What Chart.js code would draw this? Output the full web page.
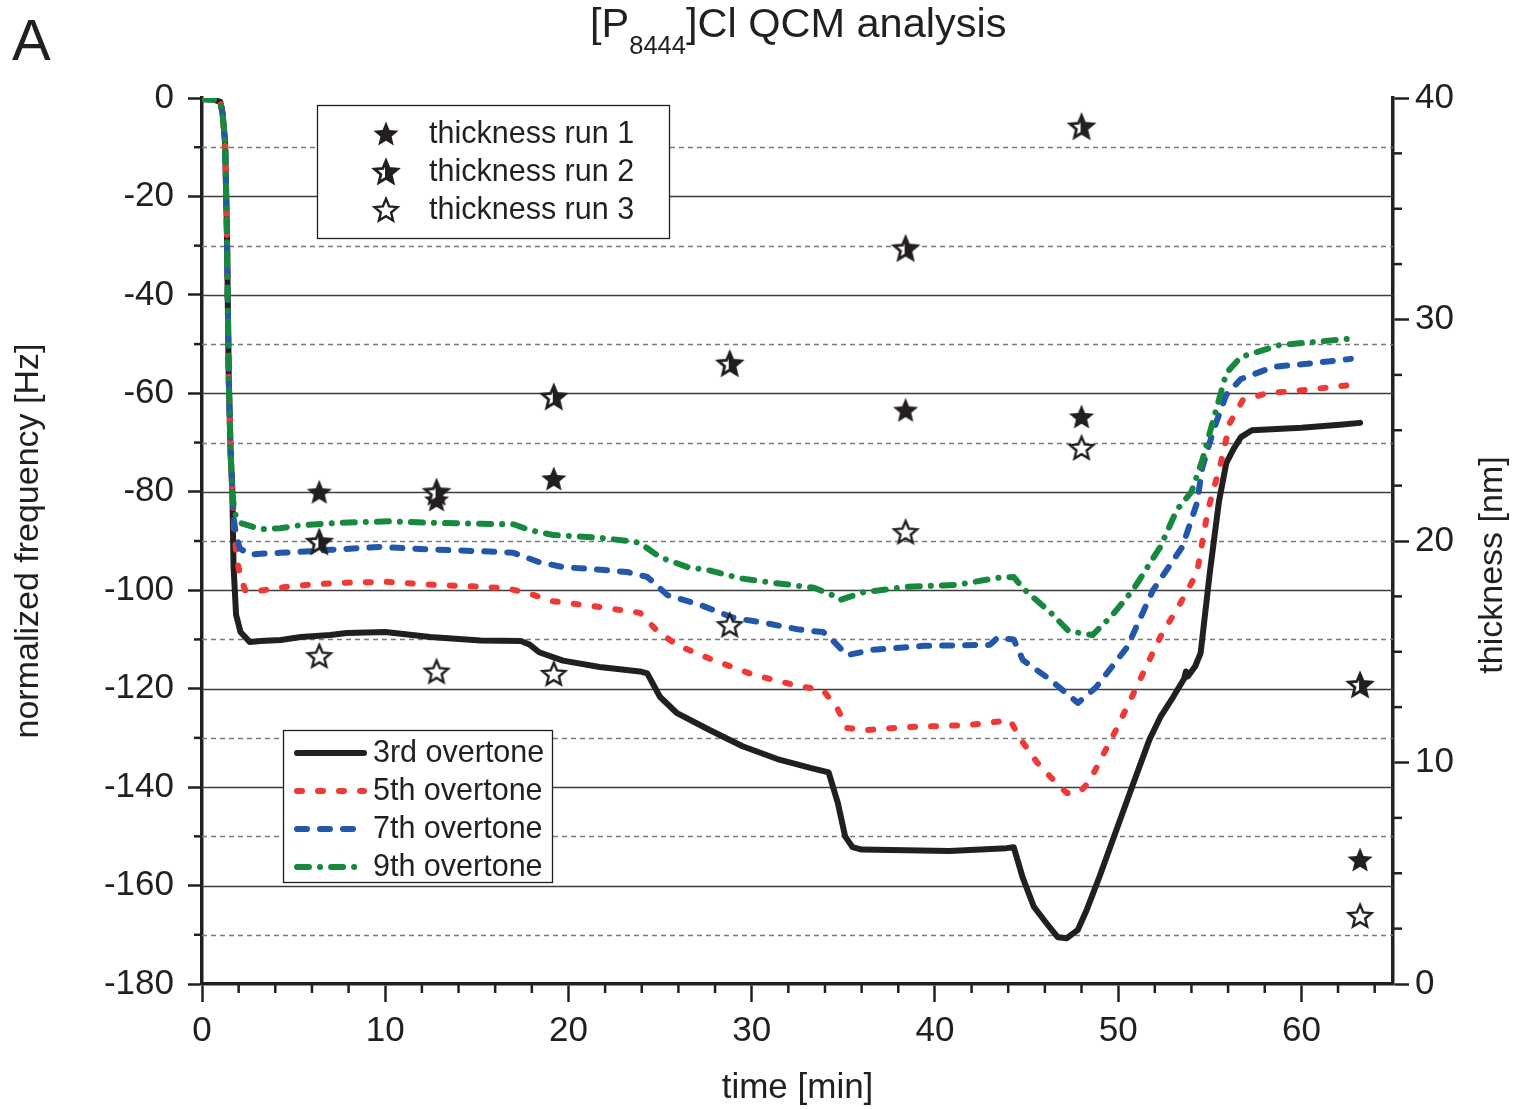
<!DOCTYPE html>
<html><head><meta charset="utf-8">
<script src="https://cdn.jsdelivr.net/npm/chart.js@4.4.1/dist/chart.umd.min.js"></script>
<style>html,body{margin:0;padding:0;background:#fff}canvas{display:block}</style>
</head><body>
<canvas id="c" width="1515" height="1109"></canvas>
<script>
const FONT = '"Liberation Sans", Arial, Helvetica, sans-serif';
const INK = '#231f20';

// ---- data ----
const time3rd = [0,0.6,1.0,1.12,1.26,1.36,1.46,1.56,1.66,1.72,1.86,2.1,2.6,3.2,4.3,5.4,7.0,7.9,10.0,12.45,15.2,17.4,17.9,18.4,19.7,21.7,23.9,24.3,25.0,25.9,27.7,29.5,31.4,33.2,34.2,34.7,35.1,35.5,36.0,37.6,40.8,43.9,44.3,44.8,45.4,46.1,46.7,47.2,47.8,48.3,49.0,49.8,50.8,51.7,52.3,53.0,53.6,53.7,53.8,54.2,54.5,55.0,55.5,55.9,56.3,56.7,57.3,60.0,62.1,63.2];
const freq3rd = [-0.2,-0.3,-0.8,-3,-9,-27,-57,-72,-80,-95,-105,-108.5,-110.5,-110.3,-110.1,-109.5,-109.1,-108.7,-108.5,-109.5,-110.2,-110.3,-111.1,-112.6,-114.3,-115.6,-116.5,-116.9,-121.7,-124.9,-128.4,-131.7,-134.3,-136.1,-137.0,-143.2,-150.0,-152.2,-152.7,-152.8,-153.0,-152.4,-152.2,-158.5,-164.3,-167.7,-170.5,-170.7,-169.0,-164.8,-158.0,-149.8,-139.5,-130.4,-125.8,-121.7,-118.0,-116.5,-117.5,-115.5,-112.8,-96.5,-82.0,-74.2,-71.3,-68.9,-67.5,-67.0,-66.4,-66.0];

const time5th = [0,0.6,1.0,1.12,1.26,1.36,1.46,1.56,1.66,1.75,1.88,2.05,2.35,3.0,5.0,7.5,10.1,12.6,15.2,16.6,17.8,19.1,21.7,23.9,24.8,25.9,27.9,30.1,32.6,33.9,34.7,35.2,36.3,38.5,41.8,44.1,44.7,45.6,46.3,47.2,47.9,48.4,49.8,51.0,52.3,53.4,54.3,54.9,55.6,56.1,56.8,58.1,60.3,62.7,63.1];
const freq5th = [-0.2,-0.3,-0.8,-3,-9,-27,-57,-72,-80,-87,-93,-96.5,-100,-100.2,-99.1,-98.5,-98.3,-98.9,-99.3,-99.6,-100.6,-102.2,-103.4,-104.6,-108.1,-111.1,-114.2,-117.2,-119.5,-120.3,-124.2,-128.0,-128.4,-127.8,-127.4,-126.4,-130.4,-135.1,-137.9,-141.2,-141.0,-139.0,-129.0,-119.7,-109.5,-102.6,-96.5,-83.7,-74.2,-66.0,-61.4,-60.0,-59.3,-58.3,-57.8];

const time7th = [0,0.6,1.0,1.12,1.26,1.36,1.46,1.56,1.66,1.72,1.86,2.07,2.6,3.2,4.26,5.35,7.0,9.7,12.45,16.1,17.0,18.4,19.7,21.6,23.2,24.3,25.4,27.2,29.0,30.8,32.6,33.9,34.4,35.2,36.6,39.4,43.0,43.4,44.3,44.8,46.3,47.8,48.8,50.5,51.9,53.5,54.3,54.6,55.2,55.9,56.7,58.5,60.3,62.7];
const freq7th = [-0.2,-0.3,-0.8,-3,-9,-27,-57,-72,-80,-85,-89,-91.5,-92.8,-92.6,-92.4,-92.2,-91.8,-91.2,-91.7,-92.2,-92.4,-94.3,-95.3,-95.8,-96.3,-97.3,-101.0,-103.0,-105.6,-106.7,-108.0,-108.5,-110.1,-113.2,-112.1,-111.3,-111.1,-109.7,-110.0,-114.2,-118.2,-122.9,-119.7,-111.5,-100.0,-91.2,-82.3,-75.0,-67.5,-60.3,-57.1,-54.6,-54.0,-53.0];

const time9th = [0,0.6,1.0,1.12,1.26,1.36,1.46,1.56,1.66,1.85,2.07,3.2,4.26,5.35,7.5,10.3,12.45,15.2,17.0,17.9,19.2,21.6,23.5,23.9,25.0,26.5,27.6,29.4,31.2,33.4,34.4,34.8,36.1,38.5,41.2,43.4,44.3,44.8,46.3,47.3,48.6,49.6,50.8,52.3,53.2,54.0,54.6,55.0,55.6,55.9,56.7,58.8,60.6,63.0];
const freq9th = [-0.2,-0.3,-0.8,-3,-9,-27,-57,-72,-81,-85,-86.3,-87.6,-87.4,-86.8,-86.3,-86.0,-86.3,-86.5,-86.6,-87.8,-88.8,-89.3,-90.1,-90.4,-93.3,-95.3,-95.9,-97.6,-98.5,-99.5,-101.0,-102.0,-100.4,-99.3,-98.9,-97.5,-97.3,-99.6,-104.5,-108.3,-109.1,-105.4,-100.0,-91.2,-83.7,-80.0,-73.5,-68.0,-60.0,-55.9,-52.6,-50.2,-49.6,-48.8];

const starTimes = [6.4, 12.8, 19.2, 28.8, 38.4, 48.0, 63.2];
const thickRun1 = [22.2, 21.85, 22.8, 28.0, 25.9, 25.6, 5.6];
const thickRun2 = [19.95, 22.2, 26.5, 28.0, 33.2, 38.7, 13.5];
const thickRun3 = [14.8, 14.1, 14.0, 16.2, 20.4, 24.2, 3.07];

const seriesLabels = ['3rd overtone','5th overtone','7th overtone','9th overtone'];
const runLabels = ['thickness run 1','thickness run 2','thickness run 3'];

// ---- styles ----
const lineStyles = [
  {color: INK, dash: [], width: 6},
  {color: '#ee3a36', dash: [5, 16], width: 6},
  {color: '#2257aa', dash: [10, 13], width: 6},
  {color: '#17893f', dash: [12, 11, 0.1, 11], width: 6}
];

function starPath(ctx, cx, cy, R, r) {
  ctx.beginPath();
  for (let i = 0; i < 10; i++) {
    const a = -Math.PI / 2 + i * Math.PI / 5;
    const rr = i % 2 === 0 ? R : r;
    const px = cx + rr * Math.cos(a), py = cy + rr * Math.sin(a);
    if (i === 0) ctx.moveTo(px, py); else ctx.lineTo(px, py);
  }
  ctx.closePath();
}
function makeStar(kind) {
  const c = document.createElement('canvas');
  c.width = 32; c.height = 32;
  const g = c.getContext('2d');
  const cx = 16, cy = 16.8, R = 13.2, r = 5.9;
  g.lineJoin = 'miter';
  if (kind === 'filled') {
    starPath(g, cx, cy, R, r); g.fillStyle = INK; g.fill();
  } else if (kind === 'open') {
    starPath(g, cx, cy, R - 1.2, r - 0.5); g.fillStyle = '#fff'; g.fill();
    g.lineWidth = 2.4; g.strokeStyle = INK; g.stroke();
  } else {
    starPath(g, cx, cy, R - 1.2, r - 0.5); g.fillStyle = '#fff'; g.fill();
    g.save(); g.beginPath(); g.rect(cx - 1, 0, 32, 32); g.clip();
    starPath(g, cx, cy, R - 1.2, r - 0.5); g.fillStyle = INK; g.fill(); g.restore();
    starPath(g, cx, cy, R - 1.2, r - 0.5); g.lineWidth = 2.8; g.strokeStyle = INK; g.stroke();
  }
  return c;
}
const starImgs = [makeStar('filled'), makeStar('half'), makeStar('open')];

const zip = (xs, ys) => xs.map((x, i) => ({x, y: ys[i]}));
const curveTimes = [time3rd, time5th, time7th, time9th];
const curveFreqs = [freq3rd, freq5th, freq7th, freq9th];
const runs = [thickRun1, thickRun2, thickRun3];

const datasets = [];
curveTimes.forEach((t, i) => {
  const s = lineStyles[i];
  datasets.push({
    type: 'line',
    label: seriesLabels[i], data: zip(t, curveFreqs[i]), yAxisID: 'y', xAxisID: 'x',
    borderColor: s.color, backgroundColor: s.color, borderWidth: s.width, borderDash: s.dash,
    borderCapStyle: 'round', borderJoinStyle: 'round', pointRadius: 0, pointHoverRadius: 0,
    tension: 0, fill: false, order: 10 - i
  });
});
runs.forEach((vals, i) => {
  datasets.push({
    type: 'scatter',
    label: runLabels[i], data: zip(starTimes, vals), yAxisID: 'y2', xAxisID: 'x', showLine: false,
    pointStyle: starImgs[i], pointRadius: 12, pointHoverRadius: 12, order: -1 - i
  });
});

function textFont(size) { return size + 'px ' + FONT; }

const decor = {
  id: 'decor',
  beforeDatasetsDraw(chart) {
    const ctx = chart.ctx, a = chart.chartArea, ys = chart.scales.y;
    ctx.save();
    for (let v = -170; v <= -10; v += 10) {
      const y = Math.round(ys.getPixelForValue(v)) + 0.5;
      ctx.beginPath();
      if (v % 20 === 0) { ctx.setLineDash([]); ctx.strokeStyle = '#3c3c3c'; ctx.lineWidth = 1.3; }
      else { ctx.setLineDash([5, 4]); ctx.strokeStyle = '#7a7a7a'; ctx.lineWidth = 1.3; }
      ctx.moveTo(a.left, y); ctx.lineTo(a.right, y); ctx.stroke();
    }
    ctx.restore();
  },
  afterDraw(chart) {
    const ctx = chart.ctx, a = chart.chartArea;
    const xs = chart.scales.x, ys = chart.scales.y, y2 = chart.scales.y2;
    ctx.save();
    ctx.strokeStyle = INK; ctx.lineWidth = 2.5; ctx.setLineDash([]);
    for (let v = 2; v < 65; v += 2) {
      if (v % 10 === 0) continue;
      const x = xs.getPixelForValue(v);
      ctx.beginPath(); ctx.moveTo(x, a.bottom); ctx.lineTo(x, a.bottom + 9); ctx.stroke();
    }
    for (let v = -170; v <= -10; v += 20) {
      const y = ys.getPixelForValue(v);
      ctx.beginPath(); ctx.moveTo(a.left, y); ctx.lineTo(a.left - 8, y); ctx.stroke();
    }
    for (let v = 2.5; v < 40; v += 2.5) {
      if (v % 10 === 0) continue;
      const y = y2.getPixelForValue(v);
      ctx.beginPath(); ctx.moveTo(a.right, y); ctx.lineTo(a.right + 9, y); ctx.stroke();
    }
    ctx.fillStyle = INK; ctx.textBaseline = 'alphabetic'; ctx.textAlign = 'left';
    ctx.font = textFont(58); ctx.fillText('A', 12, 60);
    let tx = 590;
    ctx.font = textFont(41.5); ctx.fillText('[P', tx, 37); tx += ctx.measureText('[P').width;
    ctx.font = textFont(25.5); ctx.fillText('8444', tx, 54); tx += ctx.measureText('8444').width;
    ctx.font = textFont(41.5); ctx.fillText(']Cl QCM analysis', tx, 37);
    ctx.save();
    ctx.translate(1493, 565); ctx.rotate(-Math.PI / 2);
    ctx.textAlign = 'center'; ctx.textBaseline = 'middle'; ctx.font = textFont(34);
    ctx.fillText('thickness [nm]', 0, 0);
    ctx.restore();
    ctx.fillStyle = '#fff'; ctx.fillRect(317, 105, 352, 133);
    ctx.strokeStyle = INK; ctx.lineWidth = 1.3; ctx.strokeRect(317.5, 105.5, 352, 133);
    ctx.font = textFont(30.5); ctx.textBaseline = 'middle'; ctx.fillStyle = INK; ctx.textAlign = 'left';
    runLabels.forEach((lab, i) => {
      const cy = 134 + i * 38;
      const img = starImgs[i];
      ctx.drawImage(img, 386 - img.width / 2, cy - img.height / 2);
      ctx.fillText(lab, 429, cy + 1);
    });
    ctx.fillStyle = '#fff'; ctx.fillRect(283, 730, 269, 152);
    ctx.strokeStyle = INK; ctx.lineWidth = 1.3; ctx.strokeRect(283.5, 730.5, 269, 152);
    seriesLabels.forEach((lab, i) => {
      const cy = 753 + i * 38;
      const s = lineStyles[i];
      ctx.save();
      ctx.strokeStyle = s.color; ctx.lineWidth = s.width; ctx.setLineDash(s.dash); ctx.lineCap = 'round';
      ctx.beginPath(); ctx.moveTo(297, cy); ctx.lineTo(364, cy); ctx.stroke();
      ctx.restore();
      ctx.fillStyle = INK; ctx.fillText(lab, 373, cy + 1);
    });
    ctx.restore();
  }
};

const tickFont = {family: FONT, size: 35};
const titleFont = {family: FONT, size: 34};

new Chart(document.getElementById('c'), {
  type: 'scatter',
  data: {datasets},
  options: {
    responsive: false, animation: false, devicePixelRatio: 1,
    layout: {padding: {top: 98, left: 0, right: 0, bottom: 0}},
    plugins: {legend: {display: false}, title: {display: false}, tooltip: {enabled: false}},
    events: [],
    scales: {
      x: {
        type: 'linear', position: 'bottom', min: 0, max: 65,
        ticks: {stepSize: 10, includeBounds: false, font: tickFont, color: INK, padding: 8, maxRotation: 0, autoSkip: false},
        grid: {display: true, drawOnChartArea: false, drawTicks: true, tickLength: 18, tickWidth: 2.5, tickColor: INK, color: INK},
        border: {display: true, color: INK, width: 3.5},
        title: {display: true, text: 'time [min]', font: {family: FONT, size: 35}, color: INK, padding: {top: 0, bottom: 0}},
        afterFit: s => { s.height = 125; }
      },
      y: {
        type: 'linear', position: 'left', min: -180, max: 0,
        ticks: {stepSize: 20, includeBounds: false, font: tickFont, color: INK, padding: 14},
        grid: {display: true, drawOnChartArea: false, drawTicks: true, tickLength: 14, tickWidth: 2.5, tickColor: INK, color: INK},
        border: {display: true, color: INK, width: 3.5},
        title: {display: true, text: 'normalized frequency [Hz]', font: titleFont, color: INK, padding: {top: 8, bottom: 0}},
        afterFit: s => { s.width = 202; }
      },
      y2: {
        type: 'linear', position: 'right', min: 0, max: 40,
        ticks: {stepSize: 10, includeBounds: false, font: tickFont, color: INK, padding: 6},
        grid: {display: true, drawOnChartArea: false, drawTicks: true, tickLength: 16, tickWidth: 2.5, tickColor: INK, color: INK},
        border: {display: true, color: INK, width: 3.5},
        title: {display: false},
        afterFit: s => { s.width = 122; }
      }
    }
  },
  plugins: [decor]
});
</script>
</body></html>
